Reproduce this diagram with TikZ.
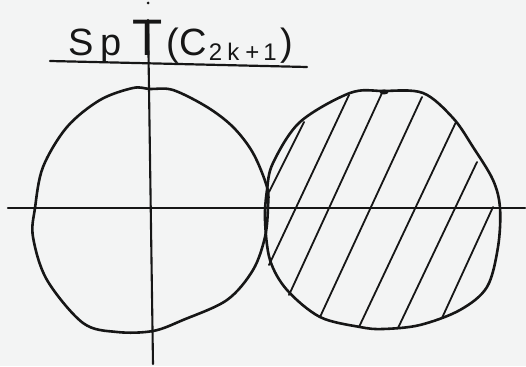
\documentclass[tikz,border=0pt]{standalone}
\usepackage{fontspec}
\usepackage{graphicx}
\setmainfont{Liberation Sans}
\definecolor{paper}{RGB}{243,244,244}
\definecolor{ink}{RGB}{22,22,22}
\begin{document}
\begin{tikzpicture}[x=1pt,y=-1pt,
  pen/.style={draw=ink,line width=2.6pt,line join=round,line cap=round},
  axis/.style={draw=ink,line width=2.1pt,line cap=round},
  hatch/.style={draw=ink,line width=1.8pt,line cap=round}]
\fill[paper] (0,0) rectangle (526,366);
\useasboundingbox (0,0) rectangle (526,366);
% title
\node[anchor=base west,inner sep=0pt,text=ink,font=\fontsize{38}{38}\selectfont] (title) at (68,56)
  {S\hspace{7pt}p\hspace{11pt}\scalebox{1.3}[1.35]{T}\hspace{4pt}(C\hspace{2pt}\raisebox{-5pt}{\fontsize{24}{24}\selectfont 2\hspace{5pt}k\hspace{6pt}+\hspace{4pt}1}\hspace{4pt})};
\coordinate (ul1) at (50,61);
\coordinate (ul2) at (307,67);
\draw[pen,line width=2.2pt] (ul1) -- (ul2);
% axes
\coordinate (hx1) at (8,208);
\coordinate (hx2) at (525,208);
\coordinate (vy1) at (148,20);
\coordinate (vy2) at (153,364);
\draw[axis] (hx1) -- (hx2);
\draw[axis] (vy1) -- (vy2);
\fill[ink] (148,3) circle (1.5);
% left circle
\draw[pen] plot[smooth cycle,tension=0.55] coordinates {
 (150,89) (173,90) (207,107) (233,127) (253,153) (267,187) (268,207)
 (265,237) (253,270) (227,300) (183,320) (153,331) (117,332) (83,323)
 (47,280) (33,237) (35,208) (43,167) (67,127) (100,100) (133,88)};
% right circle
\draw[pen] plot[smooth cycle,tension=0.55] coordinates {
 (383,91) (423,93) (453,118) (473,147) (493,180) (500,208) (498,247)
 (487,287) (460,310) (420,325) (383,329) (360,327) (320,317) (287,290)
 (270,260) (265,220) (267,190) (273,163) (300,122) (350,93)};
\fill[ink] (384,92) ellipse (4.5 and 2.5);
% hatching
\draw[hatch] (269,192) -- (304,122);
\draw[hatch] (269,265) -- (349,95);
\draw[hatch] (289,295) -- (382,93);
\draw[hatch] (320,317) -- (422,97);
\draw[hatch] (359,327) -- (456,122);
\draw[hatch] (398,328) -- (477,162);
\draw[hatch] (442,318) -- (493,207);
\end{tikzpicture}
\end{document}
